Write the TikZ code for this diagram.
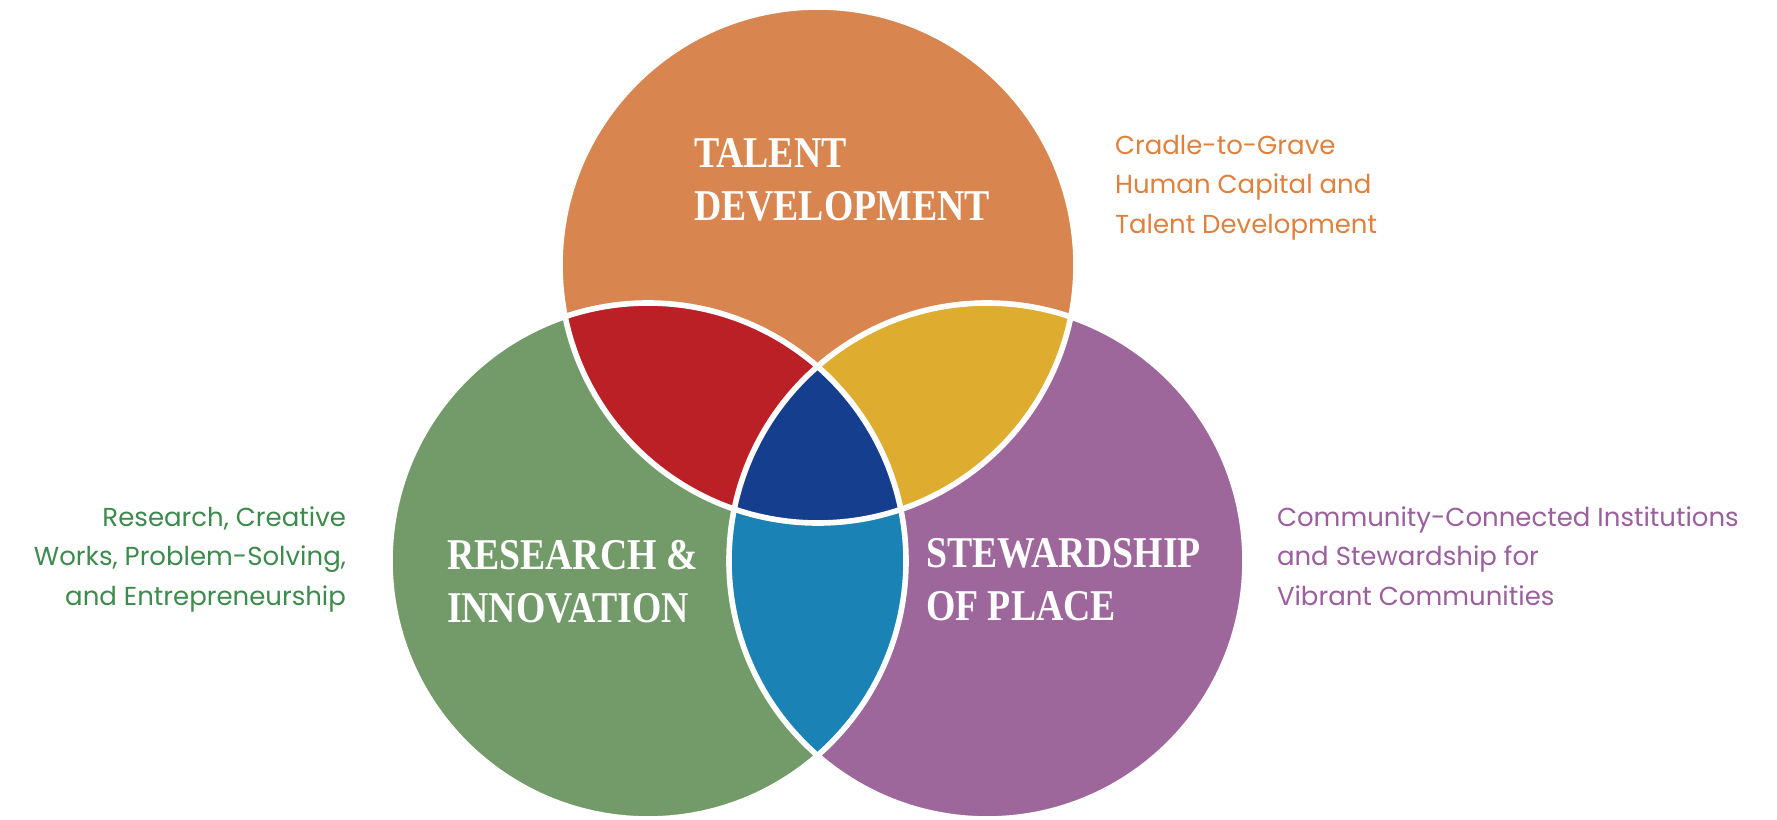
\documentclass[tikz,border=0pt]{standalone}
\usepackage{fontspec}
\setmainfont{Liberation Serif}
\newfontfamily\headfont[FakeStretch=0.86]{Liberation Serif}
\newfontfamily\notefont{Poppins}

\definecolor{talentc}{HTML}{D8854F}
\definecolor{researchc}{HTML}{729B69}
\definecolor{stewardc}{HTML}{9E679B}
\definecolor{redc}{HTML}{BB2026}
\definecolor{yellowc}{HTML}{DEAC2E}
\definecolor{navyc}{HTML}{163E8F}
\definecolor{bluec}{HTML}{1B82B5}
\definecolor{talenttext}{HTML}{E0803C}
\definecolor{researchtext}{HTML}{3D8B4C}
\definecolor{stewardtext}{HTML}{9B5E9E}

\begin{document}
\begin{tikzpicture}[
        every node/.style={inner sep=0pt, outer sep=0pt},
        head/.style={text=white, align=left, anchor=base west,
            font=\headfont\bfseries\fontsize{12.5}{14.8}\selectfont},
        note/.style={font=\notefont\fontsize{7.4}{11.1}\selectfont},
        sep/.style={draw=white, line width=1.6pt}
    ]
    \useasboundingbox (0,0) rectangle (17.77,8.19);
    \def\rad{2.58}

    % Circles
    \coordinate (talent) at (8.18,5.54);
    \coordinate (research) at (6.48,2.58);
    \coordinate (steward) at (9.87,2.58);

    \fill[talentc] (talent) circle (\rad);
    \fill[researchc] (research) circle (\rad);
    \fill[stewardc] (steward) circle (\rad);

    % Overlaps
    \begin{scope}
        \clip (talent) circle (\rad);
        \fill[redc] (research) circle (\rad);
        \fill[yellowc] (steward) circle (\rad);
    \end{scope}
    \begin{scope}
        \clip (research) circle (\rad);
        \fill[bluec] (steward) circle (\rad);
        \clip (steward) circle (\rad);
        \fill[navyc] (talent) circle (\rad);
    \end{scope}

    \draw[sep] (talent) circle (\rad);
    \draw[sep] (research) circle (\rad);
    \draw[sep] (steward) circle (\rad);

    % Nodes (base = last line)
    \node[head] (talenthead) at (6.94,5.99) {TALENT\\DEVELOPMENT};
    \node[head] (researchhead) at (4.47,1.97) {RESEARCH \&\\INNOVATION};
    \node[head] (stewardhead) at (9.26,1.99) {STEWARDSHIP\\OF PLACE};

    \node[note, text=talenttext, align=left, anchor=base west] (talentnote) at (11.15,5.86)
        {Cradle-to-Grave\\Human Capital and\\Talent Development};
    \node[note, text=researchtext, align=right, anchor=base east] (researchnote) at (3.46,2.14)
        {Research, Creative\\Works, Problem-Solving,\\and Entrepreneurship};
    \node[note, text=stewardtext, align=left, anchor=base west] (stewardnote) at (12.77,2.14)
        {Community-Connected Institutions\\and Stewardship for\\Vibrant Communities};

\end{tikzpicture}
\end{document}
